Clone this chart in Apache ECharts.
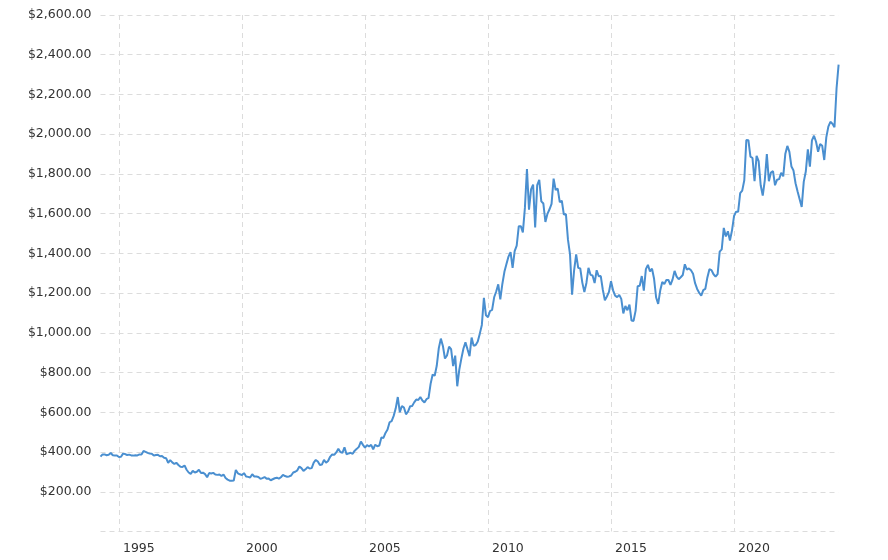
<!DOCTYPE html>
<html>
<head>
<meta charset="utf-8">
<script src="https://cdn.jsdelivr.net/npm/echarts@6/dist/echarts.min.js"></script>
<style>
html,body{margin:0;padding:0;background:#ffffff;}
#chart{width:888px;height:560px;}
</style>
</head>
<body>
<div id="chart"></div>
<script>
// Monthly gold price (USD/oz), April 1994 – April 2024
const startYear = 1994;
const startMonth = 4;
const prices = [
  /*1994*/ 377, 388, 388, 384, 386, 395, 384, 383, 383,
  /*1995*/ 375, 376, 392, 390, 385, 387, 383, 382, 384, 383, 388, 387,
  /*1996*/ 405, 401, 396, 392, 391, 382, 385, 386, 379, 380, 371, 369,
  /*1997*/ 346, 359, 348, 340, 346, 335, 326, 325, 332, 311, 297, 290,
  /*1998*/ 305, 297, 301, 311, 294, 296, 289, 273, 294, 292, 295, 287,
  /*1999*/ 285, 287, 279, 287, 269, 261, 256, 255, 257, 310, 293, 288,
  /*2000*/ 284, 294, 277, 275, 272, 288, 277, 277, 274, 265, 269, 274,
  /*2001*/ 266, 267, 258, 263, 268, 271, 266, 273, 285, 279, 276, 277,
  /*2002*/ 282, 297, 301, 308, 327, 319, 305, 313, 324, 317, 319, 347,
  /*2003*/ 360, 352, 335, 337, 361, 346, 355, 376, 388, 386, 398, 416,
  /*2004*/ 400, 396, 424, 389, 393, 396, 391, 407, 416, 426, 453, 436,
  /*2005*/ 422, 435, 428, 436, 414, 437, 429, 433, 473, 471, 496, 513,
  /*2006*/ 550, 556, 582, 620, 677, 600, 632, 624, 590, 604, 630, 632,
  /*2007*/ 650, 664, 662, 677, 659, 650, 666, 672, 743, 790, 784, 834,
  /*2008*/ 923, 971, 934, 871, 886, 930, 918, 833, 885, 731, 815, 870,
  /*2009*/ 920, 952, 917, 883, 976, 935, 939, 956, 996, 1040, 1176, 1088,
  /*2010*/ 1079, 1110, 1116, 1179, 1208, 1244, 1169, 1246, 1307, 1347, 1384, 1406,
  /*2011*/ 1327, 1411, 1439, 1536, 1537, 1506, 1629, 1825, 1620, 1722, 1746, 1531,
  /*2012*/ 1744, 1770, 1662, 1651, 1558, 1599, 1622, 1649, 1776, 1719, 1726, 1658,
  /*2013*/ 1665, 1595, 1598, 1469, 1395, 1192, 1315, 1395, 1327, 1324, 1253, 1205,
  /*2014*/ 1251, 1327, 1292, 1289, 1251, 1315, 1285, 1286, 1217, 1164, 1183, 1206,
  /*2015*/ 1260, 1214, 1187, 1180, 1191, 1171, 1098, 1135, 1114, 1142, 1062, 1060,
  /*2016*/ 1112, 1235, 1237, 1286, 1212, 1321, 1342, 1309, 1323, 1272, 1178, 1146,
  /*2017*/ 1213, 1256, 1245, 1266, 1266, 1242, 1268, 1312, 1283, 1270, 1280, 1291,
  /*2018*/ 1345, 1318, 1324, 1315, 1298, 1250, 1221, 1202, 1187, 1215, 1221, 1279,
  /*2019*/ 1320, 1316, 1295, 1283, 1296, 1409, 1420, 1528, 1485, 1511, 1465, 1515,
  /*2020*/ 1588, 1610, 1609, 1703, 1716, 1768, 1971, 1970, 1887, 1880, 1763, 1891,
  /*2021*/ 1864, 1743, 1691, 1768, 1900, 1763, 1807, 1814, 1743, 1771, 1774, 1806,
  /*2022*/ 1788, 1900, 1941, 1911, 1837, 1817, 1753, 1711, 1672, 1634, 1760, 1812,
  /*2023*/ 1924, 1837, 1969, 1992, 1962, 1912, 1951, 1942, 1870, 1984, 2038, 2062,
  /*2024*/ 2053, 2035, 2230, 2350
];
const xTickYears = [1995, 2000, 2005, 2010, 2015, 2020];
const yMin = 0, yMax = 2600, yStep = 200;

// month categories built from the start month
const months = [];
for (let i = 0; i < prices.length; i++) {
  const m0 = startMonth - 1 + i;
  const y = startYear + Math.floor(m0 / 12);
  const m = (m0 % 12) + 1;
  months.push(y + '-' + (m < 10 ? '0' + m : '' + m));
}

function isYearTick(idx, val) {
  return val.slice(5) === '01' && xTickYears.indexOf(+val.slice(0, 4)) >= 0;
}
function money(v) {
  if (v === 0) return '';
  const s = Math.round(v).toString().replace(/\B(?=(\d{3})+(?!\d))/g, ',');
  return '$' + s + '.00';
}

const gridLine = { color: '#dcdcdc', width: 1, type: [5, 4] };
const font = 'DejaVu Sans, Verdana, sans-serif';

const chart = echarts.init(document.getElementById('chart'), null, { renderer: 'canvas' });
chart.setOption({
  animation: false,
  backgroundColor: '#ffffff',
  grid: { left: 100.5, right: 49.4, top: 15, bottom: 28.5, containLabel: false },
  xAxis: {
    type: 'category',
    data: months,
    boundaryGap: false,
    axisLine: { show: false },
    axisTick: { show: false },
    axisLabel: {
      interval: isYearTick,
      formatter: v => v.slice(0, 4),
      align: 'left',
      padding: [0, 0, 0, 4],
      margin: 11,
      color: '#333333',
      fontFamily: font,
      fontSize: 12.5
    },
    splitLine: { show: true, interval: isYearTick, lineStyle: gridLine }
  },
  yAxis: {
    type: 'value',
    min: yMin,
    max: yMax,
    interval: yStep,
    axisLine: { show: false },
    axisTick: { show: false },
    axisLabel: {
      formatter: money,
      margin: 9,
      color: '#333333',
      fontFamily: font,
      fontSize: 12.5
    },
    splitLine: { show: true, lineStyle: gridLine }
  },
  series: [{
    type: 'line',
    data: prices,
    showSymbol: false,
    symbol: 'none',
    smooth: false,
    lineStyle: { color: '#4a8fd0', width: 2 },
    itemStyle: { color: '#4a8fd0' }
  }]
});
</script>
</body>
</html>
